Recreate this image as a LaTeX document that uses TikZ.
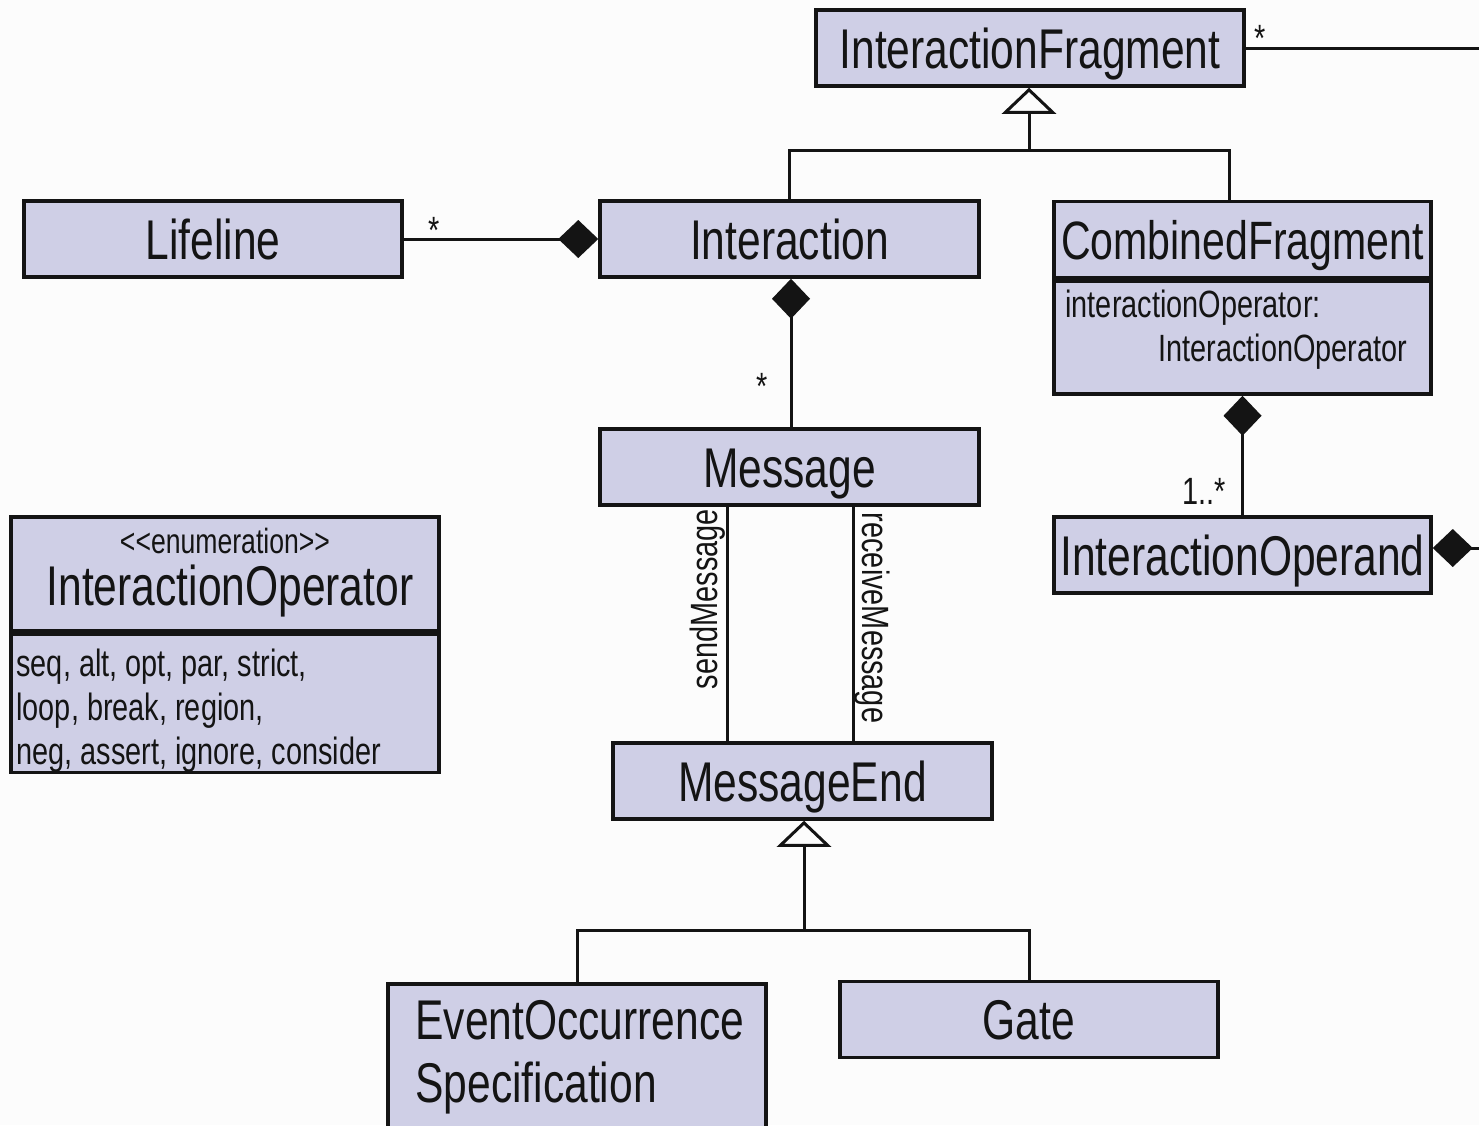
\documentclass[tikz,border=0pt]{standalone}
\usepackage{fontspec}
\setmainfont{Liberation Sans}[FakeStretch=0.76]
\usetikzlibrary{arrows.meta,positioning}
\definecolor{palet1}{HTML}{CFCFE6}
\definecolor{palet2}{HTML}{141414}
\definecolor{palet3}{HTML}{FCFCFC}
\colorlet{cbox}{palet1}
\colorlet{cline}{palet2}
\colorlet{ctext}{palet2}
\colorlet{cpage}{palet3}
\newcommand\clsfont{\fontsize{56}{63}\selectfont}
\newcommand\attrfont{\fontsize{38}{44}\selectfont}
\tikzset{
  box/.style={draw=cline, line width=3.5pt, fill=cbox, inner sep=0pt},
  cls/.style={box, minimum height=76pt, font=\clsfont, text height=40pt, text depth=0pt, text=ctext},
  clstext/.style={font=\clsfont, text=ctext, inner sep=0pt, align=left},
  attr/.style={font=\attrfont, text=ctext, inner sep=0pt, align=left},
  mult/.style={font=\attrfont, text=ctext, inner sep=0pt},
  conn/.style={draw=cline, line width=3pt},
  compo/.tip={Diamond[length=40pt,width=38pt]},
  inherit/.tip={Triangle[open,length=26pt,width=54pt]},
}

\begin{document}
\begin{tikzpicture}[x=1pt,y=-1pt]
  \useasboundingbox (0,0) rectangle (1479,1125);
  \clip (0,0) rectangle (1479,1125);
  \fill[cpage] (0,0) rectangle (1479,1125);

  % classes
  \node[cls, minimum width=428pt] (frag) at (1030,48) {InteractionFragment};
  \node[cls, minimum width=378pt] (life) at (213,239) {Lifeline};
  \node[cls, minimum width=379pt] (inter) at (789.5,239) {Interaction};
  \node[cls, minimum width=377pt, font=\fontsize{54}{63}\selectfont] (comb) at (1242.5,239.5) {CombinedFragment};
  \node[box, minimum width=377pt, minimum height=113pt, anchor=north] (combattr) at (comb.south) {};
  \node[attr, anchor=north west] at ([shift={(13,11)}]combattr.north west)
    {interactionOperator:\\\hspace*{93pt}InteractionOperator};
  \node[cls, minimum width=377pt] (operand) at (1242.5,555) {InteractionOperand};
  \node[cls, minimum width=379pt] (msg) at (789.5,467) {Message};
  \node[cls, minimum width=379pt] (mend) at (802.5,781) {MessageEnd};
  \node[box, minimum width=378pt, minimum height=180pt, anchor=north] (evt) at (577,982) {};
  \node[clstext, anchor=north west] at ([shift={(29,18)}]evt.north west)
    {EventOccurrence\\Specification};
  \node[cls, minimum width=378pt] (gate) at (1029,1019.5) {Gate};

  % enumeration
  \node[box, minimum width=428pt, minimum height=114pt] (enum) at (225,574) {};
  \node[box, minimum width=428pt, minimum height=138pt, anchor=north] (enumlit) at (enum.south) {};
  \node[attr, font=\fontsize{35}{40}\selectfont, anchor=base, text depth=0pt] at ([yshift=-38pt]enum.north)
    {<{}<enumeration>{}>};
  \node[clstext, anchor=base, text height=40pt] at ([xshift=5pt, yshift=-90pt]enum.north) {InteractionOperator};
  \node[attr, anchor=north west] at ([shift={(7,16)}]enumlit.north west)
    {seq, alt, opt, par, strict,\\loop, break, region,\\neg, assert, ignore, consider};

  % associations
  \coordinate (fragend) at (1479,48);
  \draw[conn] (frag.east) -- (fragend);
  \node[mult] at (1260,38) {*};

  \coordinate (fragjoin) at (1029,150);
  \draw[conn] (inter.north) |- (fragjoin) -| ([xshift=-13.5pt]comb.north);
  \draw[conn, -inherit] (fragjoin) -- (fragjoin |- frag.south);

  \draw[conn, -compo] (life.east) -- (inter.west);
  \node[mult] at (434,230) {*};

  \draw[conn, compo-] ([xshift=1.5pt]inter.south) -- ([xshift=1.5pt]msg.north);
  \node[mult] at (762,386) {*};

  \draw[conn] ([xshift=-62.5pt]msg.south) -- ([xshift=-62.5pt]msg.south |- mend.north)
    node[attr, pos=0.42, rotate=90, above=6pt] {sendMessage};
  \draw[conn] ([xshift=63.5pt]msg.south) -- ([xshift=63.5pt]msg.south |- mend.north)
    node[attr, midway, rotate=-90, above=6pt] {receiveMessage};

  \coordinate (mendjoin) at (804,930);
  \draw[conn] (evt.north) |- (mendjoin) -| (gate.north);
  \draw[conn, -inherit] (mendjoin) -- (mendjoin |- mend.south);

  \draw[conn, compo-] (combattr.south) -- (operand.north);
  \node[mult] at (1204,491) {1..*};

  \coordinate (operandend) at (1479,548);
  \draw[conn, compo-] ([yshift=7pt]operand.east) -- (operandend);
\end{tikzpicture}
\end{document}
